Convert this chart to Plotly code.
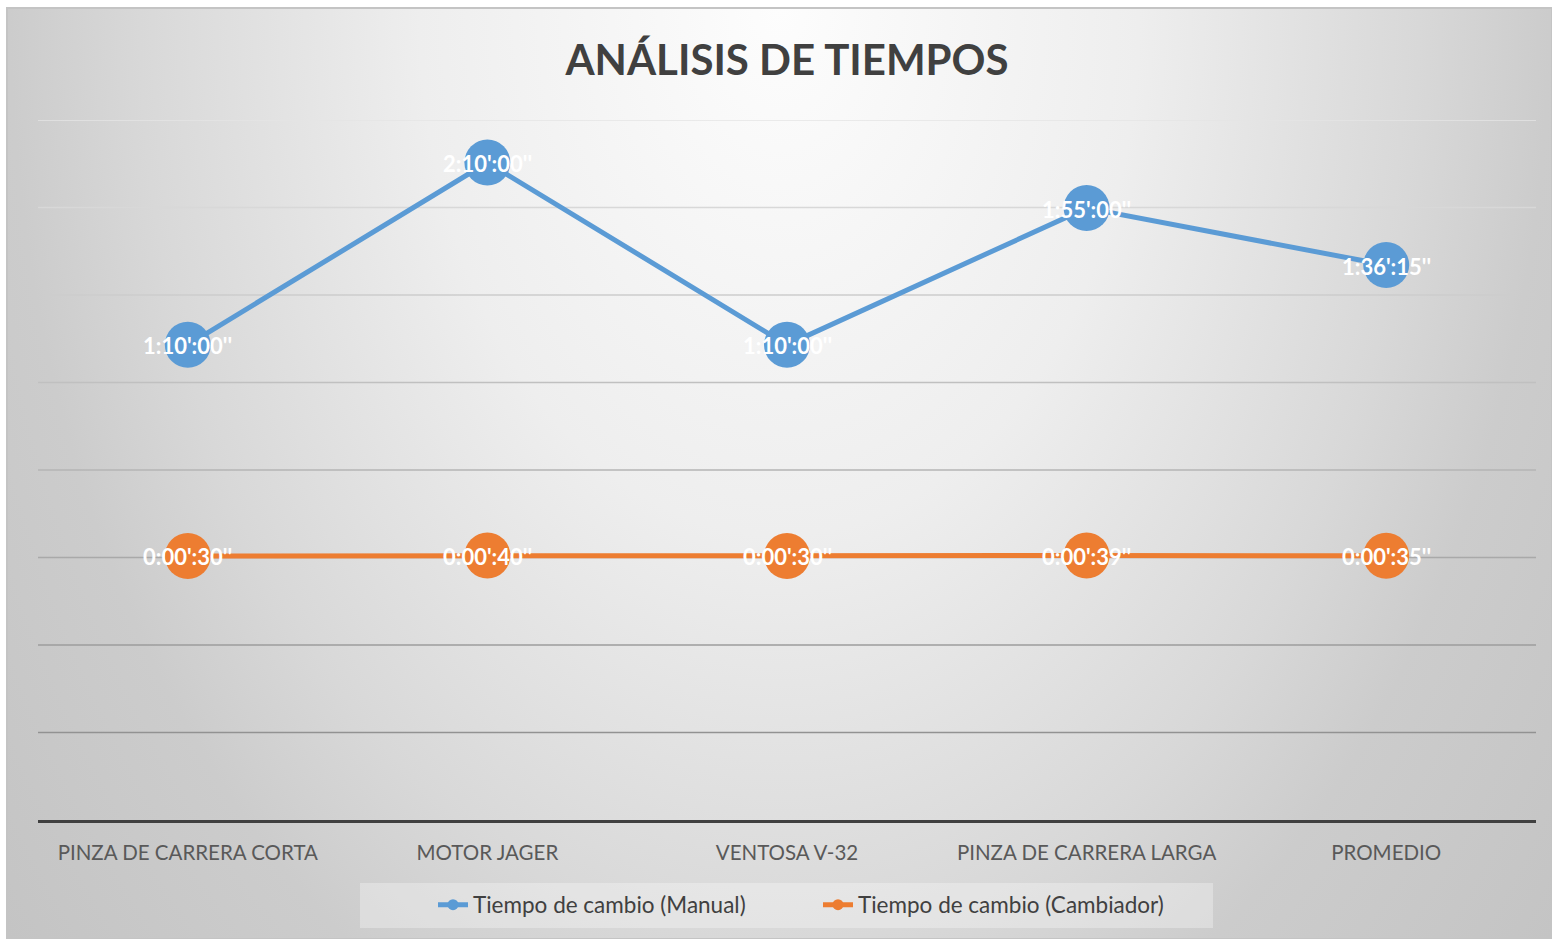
import base64
import plotly.graph_objects as go

# Categories and change times (seconds)
categorias = ["PINZA DE CARRERA CORTA", "MOTOR JAGER", "VENTOSA V-32",
              "PINZA DE CARRERA LARGA", "PROMEDIO"]
manual_seg = [4200, 7800, 4200, 6900, 5775]
cambiador_seg = [30, 40, 30, 39, 35]

serie_manual = "Tiempo de cambio (Manual)"
serie_cambiador = "Tiempo de cambio (Cambiador)"
titulo = "ANÁLISIS DE TIEMPOS"

AZUL = "#5b9bd5"
NARANJA = "#ed7d31"
FONT = "Lato"


def fmt(seg):
    h, r = divmod(int(seg), 3600)
    m, s = divmod(r, 60)
    return f"{h}:{m:02d}':{s:02d}''"


def minutos(vals):
    return [v / 60 for v in vals]


# Axis in minutes, gridlines every 0.02 days (28.8 min)
PASO = 28.8
Y_MIN, Y_MAX = -3 * PASO, 5 * PASO

W, H = 1552, 939
L, R, T, B = 38, 16, 120, 119
pw = W - L - R
ph = H - T - B

fig = go.Figure()
etiquetas = []

for nombre, vals, color in [(serie_manual, manual_seg, AZUL),
                            (serie_cambiador, cambiador_seg, NARANJA)]:
    fig.add_trace(go.Scatter(
        x=categorias, y=minutos(vals), mode="lines+markers",
        line=dict(color=color, width=5),
        marker=dict(color=color, size=46),
        showlegend=False, hoverinfo="skip", cliponaxis=False,
    ))
    # legend entry with small marker
    fig.add_trace(go.Scatter(
        x=[None], y=[None], mode="lines+markers", name=nombre,
        line=dict(color=color, width=5), marker=dict(color=color, size=11),
    ))
    # white value labels centred on each point
    for cat, v in zip(categorias, vals):
        etiquetas.append(dict(
            x=cat, y=v / 60, text=fmt(v), showarrow=False, yshift=-1,
            xanchor="center", yanchor="middle",
            font=dict(family=FONT, size=22, color="white", weight="bold"),
        ))

# radial background gradient, light at top centre
cx = W / 2
svg = f"""<svg xmlns='http://www.w3.org/2000/svg' width='{W}' height='{H}' viewBox='0 0 {W} {H}' preserveAspectRatio='none'>
<defs><radialGradient id='g' gradientUnits='userSpaceOnUse' cx='{cx}' cy='0' r='1004'
 gradientTransform='translate({cx} 0) scale(1 1.47) translate({-cx} 0)'>
<stop offset='0' stop-color='#fdfdfd'/>
<stop offset='0.36' stop-color='#eeeeee'/>
<stop offset='0.64' stop-color='#d8d8d8'/>
<stop offset='0.77' stop-color='#cccccc'/>
<stop offset='1' stop-color='#c4c4c4'/>
</radialGradient></defs>
<rect width='100%' height='100%' fill='url(#g)'/></svg>"""
src = "data:image/svg+xml;base64," + base64.b64encode(svg.encode()).decode()

x0 = (7 - L) / pw
x1 = (W - L) / pw
y1 = (H - 8 - B) / ph
y0 = -B / ph
fig.add_layout_image(dict(source=src, xref="paper", yref="paper", x=x0, y=y1,
                          sizex=x1 - x0, sizey=y1 - y0, sizing="stretch",
                          xanchor="left", yanchor="top", layer="below"))

shapes = [dict(type="rect", xref="paper", yref="paper", x0=x0, x1=x1, y0=y0, y1=y1,
               line=dict(color="#c4c4c4", width=2), fillcolor="rgba(0,0,0,0)", layer="below")]

# gridlines, lighter toward the top
grid_vals = [Y_MIN + PASO * i for i in range(1, 9)]
for i, gv in enumerate(grid_vals):
    t = i / (len(grid_vals) - 1)
    c = int(0x92 + (0xe4 - 0x92) * t)
    shapes.append(dict(type="line", xref="paper", yref="y", x0=0, x1=1, y0=gv, y1=gv,
                       line=dict(color=f"rgb({c},{c},{c})", width=1.5), layer="below"))

# legend box
shapes.append(dict(type="rect", xref="paper", yref="paper",
                   x0=(360 - L) / pw, x1=(1213 - L) / pw,
                   y0=-(928 - (H - B)) / ph, y1=-(883 - (H - B)) / ph,
                   fillcolor="rgba(255,255,255,0.3)", line=dict(width=0), layer="below"))

fig.update_layout(
    width=W, height=H,
    margin=dict(l=L, r=R, t=T, b=B),
    paper_bgcolor="white", plot_bgcolor="rgba(0,0,0,0)",
    shapes=shapes, annotations=etiquetas,
    title=dict(text=titulo, x=787 / W, xanchor="center", y=1 - 60 / H, yanchor="middle",
               font=dict(family=FONT, size=42, color="#404040", weight="bold")),
    xaxis=dict(range=[-0.5, 4.5], showgrid=False, showline=True, linecolor="#404040",
               linewidth=3, ticks="", zeroline=False, ticklabelstandoff=12,
               tickfont=dict(family=FONT, size=20.5, color="#595959")),
    yaxis=dict(range=[Y_MIN, Y_MAX], showgrid=False, showticklabels=False,
               zeroline=False, showline=False),
    legend=dict(orientation="h", x=(433 - L) / pw, xanchor="left", y=-(905 - (H - B)) / ph,
                yanchor="middle", bgcolor="rgba(0,0,0,0)",
                font=dict(family=FONT, size=22.5, color="#404040"), itemwidth=30,
                entrywidth=340),
    showlegend=True,
)

fig.write_html("out.html")
